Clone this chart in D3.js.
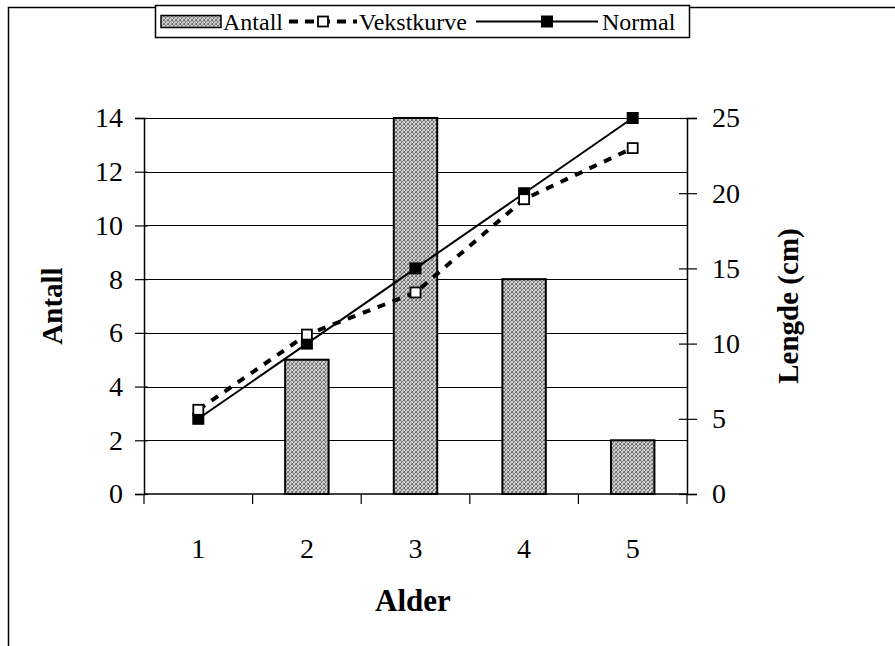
<!DOCTYPE html>
<html>
<head>
<meta charset="utf-8">
<script src="https://cdn.jsdelivr.net/npm/d3@7"></script>
<style>
  html, body { margin: 0; padding: 0; background: #fff; }
  svg { display: block; }
  text { font-family: "Liberation Serif", "Times New Roman", serif; fill: #000; }
</style>
</head>
<body>
<svg id="chart" width="895" height="646"></svg>
<script>
// Age groups and measurements
const ages = [1, 2, 3, 4, 5];
const antall = [0, 5, 14, 8, 2];                  // count per age (left axis)
const vekstkurve = [5.6, 10.6, 13.4, 19.6, 23.0]; // growth curve, cm (right axis)
const normal = [5, 10, 15, 20, 25];               // normal length, cm (right axis)
const leftTicks = [0, 2, 4, 6, 8, 10, 12, 14];
const rightTicks = [0, 5, 10, 15, 20, 25];

const SERIF = "Liberation Serif, Times New Roman, serif";
const svg = d3.select("#chart");

// Dithered grey fill for the bars
const defs = svg.append("defs");
const pat = defs.append("pattern")
  .attr("id", "dither").attr("width", 4).attr("height", 4)
  .attr("patternUnits", "userSpaceOnUse");
pat.append("rect").attr("width", 4).attr("height", 4).attr("fill", "#cdcdcd");
[[0, 0], [2, 1], [1, 2], [3, 3], [3, 0], [1, 1], [0, 3]].forEach(([px, py], i) => {
  pat.append("rect").attr("x", px).attr("y", py).attr("width", 1).attr("height", 1)
    .attr("fill", i % 2 ? "#858585" : "#6f6f6f");
});

// Outer frame (left and top edges)
svg.append("path")
  .attr("d", "M8.5,646 V7.5 H895")
  .attr("fill", "none").attr("stroke", "#000").attr("stroke-width", 1.5);

const plot = { left: 144, right: 687, top: 118, bottom: 494 };

const x = d3.scaleBand().domain(ages).range([plot.left, plot.right])
  .paddingInner(0.6).paddingOuter(0.3);
const yL = d3.scaleLinear().domain([0, 14]).range([plot.bottom, plot.top]);
const yR = d3.scaleLinear().domain([0, 25]).range([plot.bottom, plot.top]);
const cx = d => x(d) + x.bandwidth() / 2;

// Horizontal gridlines
svg.append("g").selectAll("line").data(leftTicks.filter(t => t > 0)).join("line")
  .attr("x1", plot.left).attr("x2", plot.right)
  .attr("y1", d => Math.round(yL(d)) + 0.5).attr("y2", d => Math.round(yL(d)) + 0.5)
  .attr("stroke", "#000").attr("stroke-width", 1.2);

// Bars
svg.append("g").selectAll("rect").data(ages.map((a, i) => ({ a, v: antall[i] })).filter(d => d.v > 0))
  .join("rect")
  .attr("x", d => x(d.a)).attr("width", x.bandwidth())
  .attr("y", d => yL(d.v)).attr("height", d => yL(0) - yL(d.v))
  .attr("fill", "url(#dither)").attr("stroke", "#000").attr("stroke-width", 2);

// Left axis
const axL = d3.axisLeft(yL).tickValues(leftTicks).tickSize(9).tickPadding(12);
const gL = svg.append("g").attr("transform", `translate(${plot.left},0)`).call(axL)
  .attr("font-family", SERIF).attr("font-size", 28);
gL.select(".domain").attr("stroke-width", 1.5);
gL.selectAll(".tick line").attr("x2", -9).attr("x1", 4).attr("stroke-width", 1.2);

// Right axis (ticks crossing the line)
const axR = d3.axisRight(yR).tickValues(rightTicks).tickSize(10).tickPadding(15);
const gR = svg.append("g").attr("transform", `translate(${plot.right},0)`).call(axR)
  .attr("font-family", SERIF).attr("font-size", 28);
gR.select(".domain").attr("stroke-width", 1.5);
gR.selectAll(".tick line").attr("x1", -8).attr("stroke-width", 1.2);

// Bottom axis: ticks at category boundaries, labels at centres
svg.append("line")
  .attr("x1", plot.left).attr("x2", plot.right)
  .attr("y1", plot.bottom).attr("y2", plot.bottom)
  .attr("stroke", "#000").attr("stroke-width", 1.5);
const bounds = d3.range(ages.length + 1).map(i => plot.left + i * (plot.right - plot.left) / ages.length);
svg.append("g").selectAll("line").data(bounds).join("line")
  .attr("x1", d => d).attr("x2", d => d)
  .attr("y1", plot.bottom).attr("y2", plot.bottom + 10)
  .attr("stroke", "#000").attr("stroke-width", 1.2);
svg.append("g").attr("font-family", SERIF).selectAll("text").data(ages).join("text")
  .attr("x", d => cx(d)).attr("y", 558)
  .attr("text-anchor", "middle").attr("font-size", 28)
  .text(d => d);

// Growth curve (dashed, open squares) and normal curve (solid, filled squares)
const line = d3.line().x(d => cx(d.a)).y(d => yR(d.v));
const vekData = ages.map((a, i) => ({ a, v: vekstkurve[i] }));
const norData = ages.map((a, i) => ({ a, v: normal[i] }));

svg.append("path").datum(vekData).attr("d", line)
  .attr("fill", "none").attr("stroke", "#000").attr("stroke-width", 4)
  .attr("stroke-dasharray", "8,8");

svg.append("path").datum(norData).attr("d", line)
  .attr("fill", "none").attr("stroke", "#000").attr("stroke-width", 2);

svg.append("g").selectAll("rect").data(norData).join("rect")
  .attr("x", d => cx(d.a) - 6).attr("y", d => yR(d.v) - 6)
  .attr("width", 12).attr("height", 12).attr("fill", "#000");

svg.append("g").selectAll("rect").data(vekData).join("rect")
  .attr("x", d => cx(d.a) - 5).attr("y", d => yR(d.v) - 5)
  .attr("width", 10).attr("height", 10)
  .attr("fill", "#fff").attr("stroke", "#000").attr("stroke-width", 1.8);

// Axis titles
const titles = svg.append("g").attr("font-family", SERIF).attr("font-weight", "bold");
titles.append("text")
  .attr("transform", `translate(62,${(plot.top + plot.bottom) / 2}) rotate(-90)`)
  .attr("text-anchor", "middle").attr("font-size", 29)
  .text("Antall");
titles.append("text")
  .attr("transform", `translate(798,${(plot.top + plot.bottom) / 2}) rotate(-90)`)
  .attr("text-anchor", "middle").attr("font-size", 29)
  .text("Lengde (cm)");
titles.append("text")
  .attr("x", 413).attr("y", 611)
  .attr("text-anchor", "middle").attr("font-size", 31)
  .text("Alder");

// Legend
const lg = svg.append("g").attr("font-family", SERIF).attr("font-size", 24);
lg.append("rect").attr("x", 155.5).attr("y", 5.5).attr("width", 534).attr("height", 32)
  .attr("fill", "#fff").attr("stroke", "#000").attr("stroke-width", 1.5);
const ly = 21.5;
lg.append("rect").attr("x", 161).attr("y", ly - 6).attr("width", 60).attr("height", 12)
  .attr("fill", "url(#dither)").attr("stroke", "#000").attr("stroke-width", 1.5);
lg.append("text").attr("x", 223).attr("y", ly + 8).text("Antall");
lg.append("line").attr("x1", 289).attr("x2", 357).attr("y1", ly).attr("y2", ly)
  .attr("stroke", "#000").attr("stroke-width", 4).attr("stroke-dasharray", "9,7");
lg.append("rect").attr("x", 318).attr("y", ly - 5).attr("width", 10).attr("height", 10)
  .attr("fill", "#fff").attr("stroke", "#000").attr("stroke-width", 1.8);
lg.append("text").attr("x", 359).attr("y", ly + 8).text("Vekstkurve");
lg.append("line").attr("x1", 476).attr("x2", 598).attr("y1", ly).attr("y2", ly)
  .attr("stroke", "#000").attr("stroke-width", 2);
lg.append("rect").attr("x", 541).attr("y", ly - 6).attr("width", 12).attr("height", 12).attr("fill", "#000");
lg.append("text").attr("x", 602).attr("y", ly + 8).text("Normal");
</script>
</body>
</html>
